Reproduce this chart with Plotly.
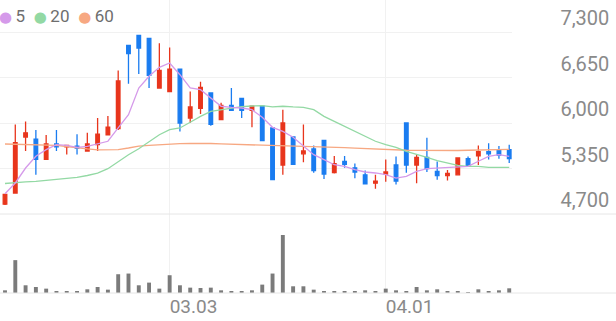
import plotly.graph_objects as go

W, H = 616, 321

dates = ["2021-02-04","2021-02-05","2021-02-08","2021-02-09","2021-02-10","2021-02-15","2021-02-16",
         "2021-02-17","2021-02-18","2021-02-19","2021-02-22","2021-02-23","2021-02-24","2021-02-25",
         "2021-02-26","2021-03-02","2021-03-03","2021-03-04","2021-03-05","2021-03-08","2021-03-09",
         "2021-03-10","2021-03-11","2021-03-12","2021-03-15","2021-03-16","2021-03-17","2021-03-18",
         "2021-03-19","2021-03-22","2021-03-23","2021-03-24","2021-03-25","2021-03-26","2021-03-29",
         "2021-03-30","2021-03-31","2021-04-01","2021-04-02","2021-04-05","2021-04-06","2021-04-07",
         "2021-04-08","2021-04-09","2021-04-12","2021-04-13","2021-04-14","2021-04-15","2021-04-16",
         "2021-04-19"]

open_ = [4840,5000,5800,5770,5480,5700,5660,5670,5600,5690,5830,5920,7110,7250,7210,6500,6450,6770,
         6070,6210,6430,6050,6250,6350,6180,6240,5930,5400,5800,5560,5630,5750,5290,5450,5360,5260,
         5140,5270,5400,6000,5400,5510,5310,5250,5260,5490,5530,5590,5620,5620]
high = [4990,5980,6020,5900,5830,5900,5690,5840,5860,6070,6100,6750,7110,7250,7210,7140,7080,6780,
        6450,6590,6430,6290,6500,6350,6240,6240,5930,6190,5800,5980,5680,5750,5530,5530,5420,5320,
        5260,5480,5520,6000,5550,5790,5450,5330,5510,5520,5680,5710,5670,5690]
low = [4830,4990,5600,5260,5470,5600,5550,5550,5600,5600,5830,5900,6560,6700,6500,6500,6450,5880,
       6000,6130,5960,6040,6170,6070,5940,5740,5190,5260,5410,5440,5290,5200,5280,5360,5210,5120,
       5060,5160,5120,5290,5140,5300,5190,5180,5250,5370,5400,5480,5490,5430]
close = [4980,5720,5860,5480,5700,5660,5680,5640,5700,5840,5940,6600,6990,7070,6680,6750,6770,6000,
         6230,6510,5980,6250,6180,6180,6240,5750,5190,6000,5410,5600,5320,5270,5420,5410,5300,5130,
         5170,5300,5170,5400,5510,5350,5250,5280,5500,5380,5590,5560,5540,5490]

ma5 = [4990,5143,5357,5524,5619,5690,5681,5653,5667,5700,5739,5929,6119,6500,6667,6796,6857,6690,
       6500,6476,6357,6239,6224,6214,6190,6081,5938,5881,5796,5667,5547,5476,5404,5381,5333,5300,
       5286,5261,5214,5239,5310,5347,5357,5367,5367,5381,5453,5524,5547,5524]
ma20 = [5136,5153,5160,5167,5179,5190,5207,5224,5250,5283,5347,5453,5547,5633,5739,5833,5904,5929,
        6010,6095,6167,6190,6214,6233,6243,6247,6229,6239,6229,6224,6190,6095,6024,5953,5881,5810,
        5739,5690,5653,5596,5557,5510,5461,5429,5396,5381,5381,5367,5367,5367]
ma60 = [5700,5697,5694,5690,5686,5681,5664,5643,5629,5617,5614,5619,5643,5671,5681,5691,5700,5704,
        5709,5710,5707,5701,5697,5693,5690,5686,5683,5681,5677,5673,5669,5661,5654,5647,5640,5633,
        5626,5619,5614,5611,5609,5607,5606,5604,5607,5611,5614,5619,5621,5624]

volume = [8000,98000,23000,18000,13000,6000,3000,6000,11000,18000,10000,56000,58000,23000,31000,
          13000,53000,23000,16000,15000,16000,8000,5000,3000,8000,25000,58000,173000,20000,20000,
          10000,5000,5000,5000,6000,8000,6000,13000,8000,5000,18000,8000,11000,6000,5000,2000,
          11000,6000,8000,14000]

tick_dates = ["2021-03-03", "2021-04-01"]
tick_text = ["03.03", "04.01"]
price_ticks = [4700, 5350, 6000, 6650, 7300]
price_tick_text = ["4,700", "5,350", "6,000", "6,650", "7,300"]
ma_names = ["5", "20", "60"]

RED = "#e8351c"
BLUE = "#1a7cf0"
C5, C20, C60 = "#d59aea", "#93d9a4", "#f7a882"
GRID = "#f1f1f1"
TXT = "#8a8a8a"


def py(px):
    return 1 - px / H


x_end = 512 / W
fig = go.Figure()
fig.add_trace(go.Candlestick(
    x=dates, open=open_, high=high, low=low, close=close,
    increasing=dict(line=dict(color=RED, width=1.3), fillcolor=RED),
    decreasing=dict(line=dict(color=BLUE, width=1.3), fillcolor=BLUE),
    whiskerwidth=0, showlegend=False, xaxis="x", yaxis="y"))
for vals, col in [(ma60, C60), (ma20, C20), (ma5, C5)]:
    fig.add_trace(go.Scatter(x=dates, y=vals, mode="lines", line=dict(color=col, width=1.3),
                             showlegend=False, xaxis="x", yaxis="y"))
fig.add_trace(go.Bar(x=dates, y=volume, marker=dict(color="#7b7b7b", line=dict(width=0)),
                     width=0.38, showlegend=False, xaxis="x2", yaxis="y2"))

n = len(dates)
xr = [-0.486, n - 1 + 0.27]
common_x = dict(type="category", range=xr, domain=[0, x_end], tickmode="array",
                tickvals=tick_dates, showgrid=True, gridcolor=GRID, gridwidth=1,
                zeroline=False, showline=False, ticks="", rangeslider=dict(visible=False))
fig.update_layout(
    width=W, height=H, margin=dict(l=0, r=0, t=0, b=0),
    paper_bgcolor="white", plot_bgcolor="white",
    font=dict(family="Roboto", color=TXT),
    boxgap=0.5,
    xaxis=dict(anchor="y", showticklabels=False, **common_x),
    xaxis2=dict(anchor="y2", matches="x", ticktext=tick_text, showticklabels=True,
                ticklabelposition="outside right", tickfont=dict(size=19, color=TXT),
                **common_x),
    yaxis=dict(domain=[py(214), 1], range=[4700, 4700 + 214 * 650 / 45.5],
               tickmode="array", tickvals=price_ticks, ticktext=price_tick_text,
               side="right", anchor="free", position=0.994,
               ticklabelposition="inside top", ticklabeloverflow="allow",
               tickfont=dict(size=20, color=TXT), showgrid=True, gridcolor=GRID,
               zeroline=False, showline=False, ticks=""),
    yaxis2=dict(domain=[py(293), py(214)], range=[0, 173000 * 79 / 58],
                showgrid=False, showticklabels=False, zeroline=False, showline=False),
)
for ypx in (214, 293):
    fig.add_shape(type="line", xref="paper", yref="paper", x0=0, x1=1, y0=py(ypx), y1=py(ypx),
                  line=dict(color="#e6e6e6", width=1))

legend_text = "\u2002".join(
    f"<span style='color:{c};font-size:15px;font-family:DejaVu Sans'>\u25cf</span>\u2009{name}"
    for c, name in zip([C5, C20, C60], ma_names))
fig.add_annotation(xref="paper", yref="paper", x=0, y=1, xanchor="left", yanchor="top",
                   text=legend_text, showarrow=False, font=dict(size=17, color="#6e6e6e"),
                   xshift=-3, yshift=-4)

fig.write_html("out.html")
